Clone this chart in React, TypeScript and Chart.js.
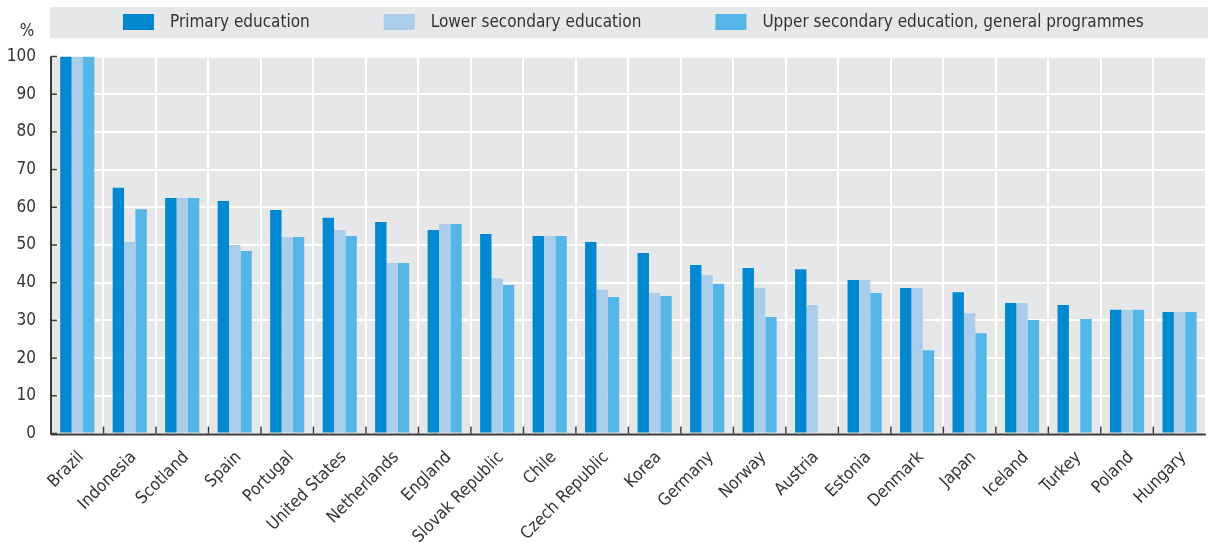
import React, { useEffect, useRef } from "react";
import { Chart, registerables } from "chart.js";
Chart.register(...registerables);

const categories = [
  "Brazil", "Indonesia", "Scotland", "Spain", "Portugal", "United States", "Netherlands",
  "England", "Slovak Republic", "Chile", "Czech Republic", "Korea", "Germany", "Norway",
  "Austria", "Estonia", "Denmark", "Japan", "Iceland", "Turkey", "Poland", "Hungary",
];
const primary = [100, 65.2, 62.5, 61.7, 59.3, 57.2, 56.1, 54.0, 52.9, 52.4, 50.8, 47.9, 44.7, 43.9, 43.6, 40.7, 38.6, 37.5, 34.6, 34.1, 32.8, 32.2];
const lowerSecondary = [100, 50.8, 62.5, 50.0, 52.1, 54.0, 45.2, 55.6, 41.2, 52.4, 38.1, 37.3, 42.0, 38.6, 34.1, 40.7, 38.6, 31.9, 34.6, null, 32.8, 32.2];
const upperSecondary = [100, 59.5, 62.5, 48.4, 52.1, 52.4, 45.2, 55.6, 39.4, 52.4, 36.2, 36.5, 39.7, 30.9, null, 37.3, 22.1, 26.6, 30.1, 30.4, 32.8, 32.2];
const seriesLabels = ["Primary education", "Lower secondary education", "Upper secondary education, general programmes"];
const seriesColors = ["#0089d0", "#abcdec", "#54b6e7"];
const yTicks = [0, 10, 20, 30, 40, 50, 60, 70, 80, 90, 100];

const FONT = "'Liberation Sans Narrow', 'DejaVu Sans Condensed', 'Arial Narrow', sans-serif";
const TEXT = "#333333";
const PANEL = "#e6e7e9";

const decor = {
  id: "decor",
  beforeDraw(chart: any) {
    const { ctx, chartArea: a } = chart;
    ctx.save();
    ctx.fillStyle = PANEL;
    ctx.fillRect(a.left, a.top, a.right - a.left, a.bottom - a.top);
    ctx.restore();
  },
  afterDatasetsDraw(chart: any) {
    const { ctx, chartArea: a, scales } = chart;
    ctx.save();
    ctx.strokeStyle = "#3a3a3a";
    ctx.lineWidth = 1.5;
    yTicks.forEach((v) => {
      const y = scales.y.getPixelForValue(v);
      ctx.beginPath();
      ctx.moveTo(a.left, y);
      ctx.lineTo(a.left + 6, y);
      ctx.stroke();
    });
    const n = categories.length;
    const w = (a.right - a.left) / n;
    for (let i = 1; i < n; i++) {
      const x = a.left + i * w;
      ctx.beginPath();
      ctx.moveTo(x, a.bottom);
      ctx.lineTo(x, a.bottom - 7);
      ctx.stroke();
    }
    ctx.lineWidth = 2;
    ctx.beginPath();
    ctx.moveTo(a.left, a.top);
    ctx.lineTo(a.left, a.bottom + 1);
    ctx.stroke();
    ctx.beginPath();
    ctx.moveTo(a.left, a.bottom + 1);
    ctx.lineTo(a.right, a.bottom + 1);
    ctx.stroke();
    ctx.restore();
  },
  afterDraw(chart: any) {
    const { ctx, chartArea: a, width } = chart;
    ctx.save();
    ctx.fillStyle = PANEL;
    ctx.fillRect(a.left - 1, 7, width - a.left + 1, 31);
    ctx.font = `17px ${FONT}`;
    ctx.textBaseline = "middle";
    ctx.textAlign = "left";
    const box = 31, gapText = 16, gapItem = 74;
    const widths = seriesLabels.map((l) => box + gapText + ctx.measureText(l).width);
    const total = widths.reduce((s, v) => s + v, 0) + gapItem * (widths.length - 1);
    let x = (a.left + a.right) / 2 - total / 2 + 5;
    seriesLabels.forEach((l, i) => {
      ctx.fillStyle = seriesColors[i];
      ctx.fillRect(x, 14, box, 16);
      ctx.fillStyle = TEXT;
      ctx.fillText(l, x + box + gapText, 22.5);
      x += widths[i] + gapItem;
    });
    ctx.textAlign = "center";
    ctx.fillText("%", 27, 32);
    ctx.restore();
  },
};

export default function App() {
  const ref = useRef<HTMLCanvasElement>(null);
  useEffect(() => {
    const chart = new Chart(ref.current!, {
      type: "bar",
      data: {
        labels: categories,
        datasets: [primary, lowerSecondary, upperSecondary].map((d, i) => ({
          label: seriesLabels[i],
          data: d as any,
          backgroundColor: seriesColors[i],
          borderWidth: 0,
          categoryPercentage: 0.65,
          barPercentage: 1.0,
        })),
      },
      options: {
        responsive: false,
        maintainAspectRatio: false,
        animation: false,
        layout: { padding: { top: 56.5, right: 1, left: 0, bottom: 0 } },
        plugins: { legend: { display: false }, title: { display: false }, tooltip: { enabled: false } },
        scales: {
          x: {
            grid: { display: true, color: "#ffffff", lineWidth: 2, drawTicks: false, offset: true },
            border: { display: false },
            ticks: {
              font: { family: FONT, size: 17 },
              color: TEXT,
              maxRotation: 45,
              minRotation: 45,
              autoSkip: false,
              padding: 14,
              labelOffset: 4,
            },
            afterFit: (s: any) => { s.height = 109.5; },
          },
          y: {
            min: 0,
            max: 100,
            grid: { color: "#ffffff", lineWidth: 2, drawTicks: false },
            border: { display: false },
            ticks: {
              stepSize: 10,
              font: { family: FONT, size: 17 },
              color: TEXT,
              padding: 15,
            },
            afterFit: (s: any) => { s.width = 51; },
          },
        },
      },
      plugins: [decor],
    });
    return () => chart.destroy();
  }, []);
  return (
    <div style={{ position: "absolute", left: 0, top: 0, width: 1208, height: 543, background: "#fff" }}>
      <canvas ref={ref} width={1208} height={543} style={{ display: "block", width: 1208, height: 543 }} />
    </div>
  );
}
